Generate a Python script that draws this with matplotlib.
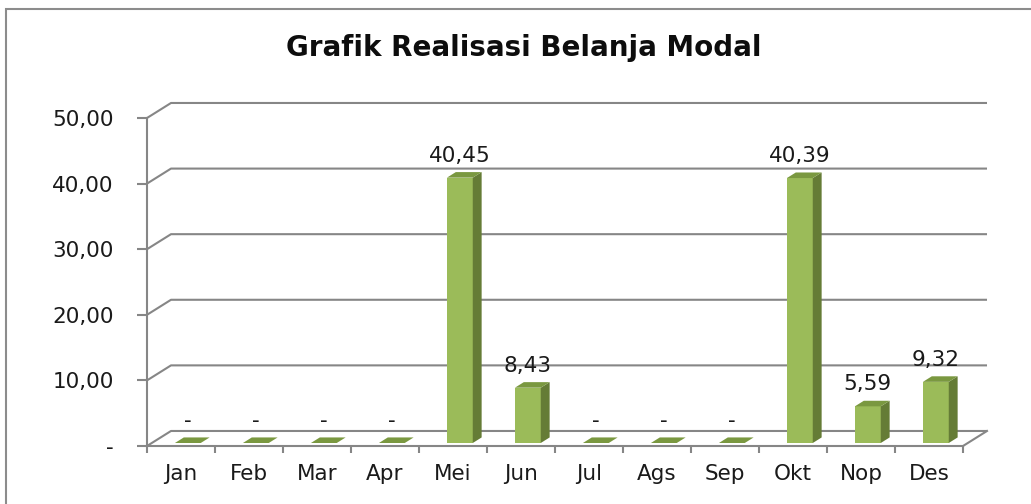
import numpy as np
import matplotlib.pyplot as plt
from matplotlib.patches import Polygon, Rectangle

# data
months = ['Jan', 'Feb', 'Mar', 'Apr', 'Mei', 'Jun', 'Jul', 'Ags', 'Sep', 'Okt', 'Nop', 'Des']
values = [0, 0, 0, 0, 40.45, 8.43, 0, 0, 0, 40.39, 5.59, 9.32]
y_ticks = [0, 10, 20, 30, 40, 50]
title = 'Grafik Realisasi Belanja Modal'

plt.rcParams['font.family'] = ['DejaVu Sans']

W, H = 1031, 504
fig = plt.figure(figsize=(W / 100, H / 100), dpi=100)
ax = fig.add_axes([147 / W, (H - 446) / H, 816 / W, 328 / H])
n = len(months)
ax.set_xlim(0, n)
ax.set_ylim(0, 50)

grid_c = '#868686'
txt_c = '#1a1a1a'
# oblique depth of the 3d box (data units)
ddx, ddy = 0.353, 2.29
z0, z1 = 0.2, 0.57          # bar depth range (fraction of box depth)
a, w = 0.34, 0.38            # bar offset / width inside category

# back wall grid
for v in y_ticks:
    ax.plot([0, ddx, n + ddx], [v, v + ddy, v + ddy], color=grid_c, lw=1.5,
            clip_on=False, zorder=1, solid_capstyle='butt')
ax.plot([n, n + ddx], [0, ddy], color=grid_c, lw=1.5, clip_on=False, zorder=1)

# bars
front_c, side_c, top_c = '#9BBB59', '#657C36', '#7A9840'
for i, v in enumerate(values):
    xl = i + a + z0 * ddx
    xr = xl + w
    yb = z0 * ddy
    yt = v + z0 * ddy
    ox, oy = (z1 - z0) * ddx, (z1 - z0) * ddy
    if v > 0:
        ax.add_patch(Polygon([(xl, yb), (xr, yb), (xr, yt), (xl, yt)], closed=True,
                             fc=front_c, ec='none', zorder=3, clip_on=False))
        ax.add_patch(Polygon([(xr, yb), (xr + ox, yb + oy), (xr + ox, yt + oy), (xr, yt)],
                             closed=True, fc=side_c, ec='none', zorder=3, clip_on=False))
    ax.add_patch(Polygon([(xl, yt), (xr, yt), (xr + ox, yt + oy), (xl + ox, yt + oy)],
                         closed=True, fc=top_c, ec='none', zorder=4, clip_on=False))
    lab = '-' if v == 0 else f'{v:.2f}'.replace('.', ',')
    ax.annotate(lab, (xl + w / 2, yt), xytext=(0, 16), textcoords='offset pixels',
                ha='center', va='baseline', fontsize=15.5, color=txt_c, zorder=5)

# front axes
for s in ['top', 'right']:
    ax.spines[s].set_visible(False)
for s in ['left', 'bottom']:
    ax.spines[s].set_color(grid_c)
    ax.spines[s].set_linewidth(1.5)
    ax.spines[s].set_zorder(2)
ax.patch.set_visible(False)

ax.set_yticks(y_ticks)
ax.set_yticklabels(['-' if t == 0 else f'{t:.2f}'.replace('.', ',') for t in y_ticks])
ax.tick_params(axis='y', length=7, width=1.5, color=grid_c, pad=17, labelsize=15.5,
               labelcolor=txt_c)
ax.set_xticks(np.arange(n + 1))
ax.set_xticklabels([])
ax.set_xticks(np.arange(n) + 0.5, minor=True)
ax.set_xticklabels(months, minor=True)
ax.tick_params(axis='x', which='major', length=5, width=1.5, color=grid_c)
ax.tick_params(axis='x', which='minor', length=0, pad=13, labelsize=15.5, labelcolor=txt_c)

fig.text(524 / W, 1 - 48 / H, title, ha='center', va='center', fontsize=20,
         fontweight='bold', color='#0d0d0d')

# chart frame
fig.patches.append(Rectangle((6 / W, -0.1), 1.1, (H - 9) / H + 0.1, transform=fig.transFigure,
                             fill=False, ec='#8c8c8c', lw=1.5))

fig.savefig('out.png', dpi=100, facecolor='white')
